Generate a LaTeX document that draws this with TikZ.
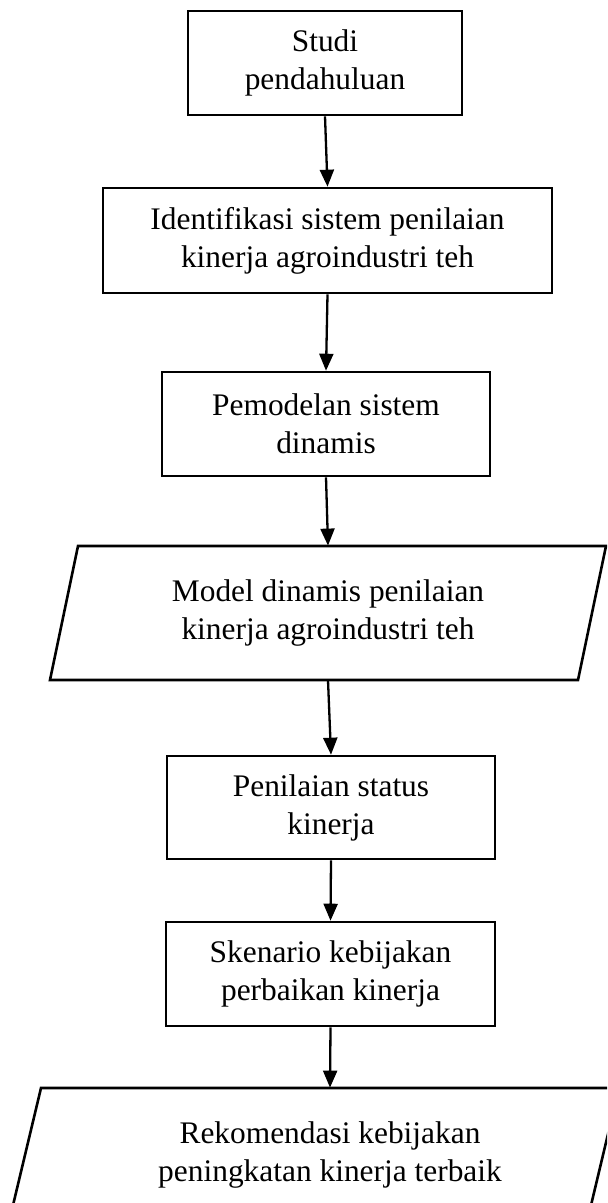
\documentclass[tikz,border=0pt]{standalone}
\usepackage{fontspec}
\setmainfont{Liberation Serif}
\usetikzlibrary{arrows.meta}

\begin{document}
\begin{tikzpicture}[
  x=0.5pt, y=-0.5pt,
  every node/.style={font=\fontsize{15.7}{19}\selectfont, align=center, inner sep=0pt},
  stepbox/.style={draw, line width=1.3pt, fill=white},
  iobox/.style={draw=none, minimum height=67pt, minimum width=200pt},
  ioshape/.style={draw, line width=1.3pt, fill=white, line join=miter},
  flow/.style={line width=1.15pt, -{Triangle[length=8.5pt, width=7pt]}}
]
  \clip (0,0) rectangle (607,1203);
  \fill[white] (0,0) rectangle (607,1203);

  % process steps
  \node[stepbox, minimum width=137pt,   minimum height=52pt]   (b1) at (325,63)    {Studi\\pendahuluan};
  \node[stepbox, minimum width=224.5pt, minimum height=52.5pt] (b2) at (327.5,240.5) {Identifikasi sistem penilaian\\kinerja agroindustri teh};
  \node[stepbox, minimum width=164pt,   minimum height=52pt]   (b3) at (326,424)   {Pemodelan sistem\\dinamis};

  % first data (parallelogram) block
  \draw[ioshape] (78,546) -- (606,546) -- (578,680) -- (50,680) -- cycle;
  \node[iobox] (p1) at (328,613) {Model dinamis penilaian\\kinerja agroindustri teh};

  \node[stepbox, minimum width=164pt,   minimum height=51.5pt] (b4) at (331,807.5) {Penilaian status\\kinerja};
  \node[stepbox, minimum width=164.5pt, minimum height=52pt]   (b5) at (330.5,974) {Skenario kebijakan\\perbaikan kinerja};

  % final output (parallelogram) block
  \draw[ioshape] (41,1088) -- (619,1088) -- (587,1222) -- (9,1222) -- cycle;
  \node[iobox] (p2) at (330,1155) {Rekomendasi kebijakan\\peningkatan kinerja terbaik};

  % connectors
  \draw[flow] (b1.south) -- (b2.north);
  \draw[flow] (b2.south) -- (b3.north);
  \draw[flow] (b3.south) -- (p1.north);
  \draw[flow] (p1.south) -- (b4.north);
  \draw[flow] (b4.south) -- (b5.north);
  \draw[flow] (b5.south) -- (p2.north);
\end{tikzpicture}
\end{document}
